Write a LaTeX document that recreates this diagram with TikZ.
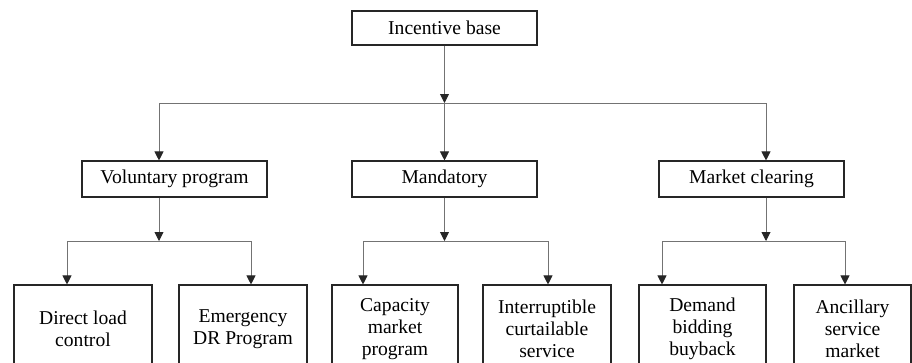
\documentclass[tikz,border=0pt]{standalone}
\usepackage{fontspec}
\setmainfont{Liberation Serif}
\usetikzlibrary{arrows.meta}
\begin{document}
\begin{tikzpicture}[x=1pt,y=-1pt,
  box/.style={draw=black!85, line width=1.1pt, inner sep=0pt, align=center,
    font=\fontsize{19.6}{22}\selectfont},
  midbox/.style={box, minimum width=185pt, minimum height=36pt},
  conn/.style={draw=black!55, line width=0.9pt},
  arr/.style={conn, -{Triangle[width=9pt,length=9pt,color=black!85]}},
]
\useasboundingbox (0,0) rectangle (912,362);
\clip (0,0) rectangle (912,362);

% boxes
\node[box, minimum width=185pt, minimum height=34pt] (top) at (444.5,28) {Incentive base};
\node[midbox] (vol) at (174.5,179) {Voluntary program};
\node[midbox] (man) at (444.5,179) {Mandatory};
\node[midbox] (mkt) at (751.5,179) {Market clearing};

\node[box, minimum width=138pt, minimum height=88pt] (dlc) at (83,329) {Direct load\\control};
\node[box, minimum width=128pt, minimum height=88pt] (edr) at (243,329) {Emergency\\DR Program};
\node[box, minimum width=126pt, minimum height=88pt] (cap) at (395,329) {Capacity\\market\\program};
\node[box, minimum width=128pt, minimum height=88pt] (ics) at (547,329) {Interruptible\\curtailable\\service};
\node[box, minimum width=127pt, minimum height=88pt] (dbb) at (702.5,329) {Demand\\bidding\\buyback};
\node[box, minimum width=117pt, minimum height=88pt] (asm) at (852.5,329) {Ancillary\\service\\market};

% level 1 connectors
\coordinate (h0) at (444.5,103);
\coordinate (hL) at (159,103);
\coordinate (hR) at (766,103);
\draw[conn] (hL) -- (hR);
\draw[arr] (top.south) -- (h0);
\draw[arr] (hL) -- (hL |- vol.north);
\draw[arr] (h0) -- (h0 |- man.north);
\draw[arr] (hR) -- (hR |- mkt.north);

% voluntary
\coordinate (vJ) at (159,241);
\coordinate (vL) at (67,241);
\coordinate (vR) at (251,241);
\draw[arr] (vol.south -| vJ) -- (vJ);
\draw[conn] (vL) -- (vR);
\draw[arr] (vL) -- (vL |- dlc.north);
\draw[arr] (vR) -- (vR |- edr.north);

% mandatory
\coordinate (mJ) at (444.5,241);
\coordinate (mL) at (363,241);
\coordinate (mR) at (548,241);
\draw[arr] (man.south) -- (mJ);
\draw[conn] (mL) -- (mR);
\draw[arr] (mL) -- (mL |- cap.north);
\draw[arr] (mR) -- (mR |- ics.north);

% market clearing
\coordinate (kJ) at (766,241);
\coordinate (kL) at (662,241);
\coordinate (kR) at (845,241);
\draw[arr] (mkt.south -| kJ) -- (kJ);
\draw[conn] (kL) -- (kR);
\draw[arr] (kL) -- (kL |- dbb.north);
\draw[arr] (kR) -- (kR |- asm.north);
\end{tikzpicture}
\end{document}
